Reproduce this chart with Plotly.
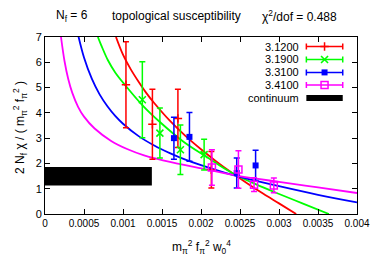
import plotly.graph_objects as go

# ---------------- data ----------------
betas = ["3.1200", "3.1900", "3.3100", "3.4100"]
colors = ["#ff0000", "#00ff00", "#0000ff", "#ff00ff"]

red_x = [0.001038, 0.001377, 0.001704, 0.002133]
red_y = [5.11, 3.55, 3.78, 1.75]
red_err = [1.70, 1.38, 1.15, 0.72]

green_x = [0.001248, 0.001473, 0.001736, 0.002040]
green_y = [4.52, 3.20, 2.54, 2.35]
green_err = [1.50, 0.99, 0.98, 0.61]

blue_x = [0.001653, 0.001852, 0.002458, 0.002700]
blue_y = [3.00, 3.05, 1.62, 1.92]
blue_err = [0.83, 0.96, 0.59, 0.60]

magenta_x = [0.002140, 0.002480, 0.002680, 0.002934]
magenta_y = [1.84, 1.76, 1.16, 1.13]
magenta_err = [0.70, 0.74, 0.27, 0.29]

# fit curves
red_fit_x = [0.00091, 0.0010, 0.0011, 0.0012, 0.0013, 0.0014, 0.0016, 0.0018,
             0.0020, 0.0022, 0.0024, 0.0026, 0.0028, 0.0030, 0.00322]
red_fit_y = [7.0, 6.30, 5.72, 5.23, 4.78, 4.39, 3.69, 3.09,
             2.56, 2.07, 1.62, 1.20, 0.80, 0.42, 0.0]

green_fit_x = [0.000678, 0.00072, 0.000805, 0.0009, 0.00104, 0.00125, 0.00148,
               0.00178, 0.00206, 0.0023, 0.00248, 0.0027, 0.00297, 0.0033, 0.00364]
green_fit_y = [7.0, 6.68, 6.09, 5.6, 5.05, 4.3, 3.62,
               2.85, 2.28, 1.80, 1.49, 1.18, 0.83, 0.42, 0.0]

blue_fit_x = [0.00043, 0.0005, 0.0006, 0.0007, 0.0008, 0.0009, 0.0010, 0.0012,
              0.0014, 0.0016, 0.0018, 0.0020, 0.0023, 0.0026, 0.0030, 0.0035, 0.0040]
blue_fit_y = [7.01, 6.19, 5.35, 4.73, 4.26, 3.88, 3.57, 3.08,
              2.71, 2.41, 2.15, 1.93, 1.64, 1.39, 1.10, 0.76, 0.46]

magenta_fit_x = [0.000205, 0.00025, 0.000297, 0.00035, 0.000424, 0.0005, 0.000636,
                 0.000848, 0.00106, 0.00127, 0.00163, 0.00206, 0.00248, 0.0030,
                 0.0035, 0.0040]
magenta_fit_y = [7.0, 6.05, 5.35, 4.79, 4.24, 3.85, 3.38,
                 2.89, 2.56, 2.32, 2.04, 1.77, 1.51, 1.27,
                 1.05, 0.83]

continuum_value = 1.495
continuum_err = 0.365
continuum_xmax = 0.00137

x_tickvals = [0, 0.0005, 0.001, 0.0015, 0.002, 0.0025, 0.003, 0.0035, 0.004]
x_ticktext = ["0", "0.0005", "0.001", "0.0015", "0.002", "0.0025", "0.003", "0.0035", "0.004"]
y_tickvals = [0, 1, 2, 3, 4, 5, 6, 7]

FONT = "Liberation Sans, Arial, Helvetica, sans-serif"

fig = go.Figure()

# continuum band
fig.add_trace(go.Scatter(
    x=[0, continuum_xmax, continuum_xmax, 0, 0],
    y=[continuum_value - continuum_err, continuum_value - continuum_err,
       continuum_value + continuum_err, continuum_value + continuum_err,
       continuum_value - continuum_err],
    fill="toself", fillcolor="black", mode="lines",
    line=dict(color="black", width=0), showlegend=False, hoverinfo="skip"))

fits = [(red_fit_x, red_fit_y), (green_fit_x, green_fit_y),
        (blue_fit_x, blue_fit_y), (magenta_fit_x, magenta_fit_y)]
for (fx, fy), c in zip(fits, colors):
    fig.add_trace(go.Scatter(x=fx, y=fy, mode="lines",
                             line=dict(color=c, width=1.8, shape="spline", smoothing=1.0),
                             showlegend=False, hoverinfo="skip"))

markers = [
    dict(symbol="cross-thin", size=6, color=colors[0], line=dict(color=colors[0], width=1.5)),
    dict(symbol="x-thin", size=7, color=colors[1], line=dict(color=colors[1], width=1.6)),
    dict(symbol="square", size=6, color=colors[2], line=dict(color=colors[2], width=0)),
    dict(symbol="square-open", size=7, color=colors[3], line=dict(color=colors[3], width=1.5)),
]
series = [(red_x, red_y, red_err), (green_x, green_y, green_err),
          (blue_x, blue_y, blue_err), (magenta_x, magenta_y, magenta_err)]
for (sx, sy, se), c, m in zip(series, colors, markers):
    fig.add_trace(go.Scatter(
        x=sx, y=sy, mode="markers", marker=m,
        error_y=dict(type="data", array=se, visible=True, color=c, thickness=1.5, width=3),
        showlegend=False))

# ---------------- hand-made gnuplot style legend ----------------
leg_rows = [0.946, 0.873, 0.800, 0.729, 0.656]
leg_xc = 0.896
leg_half = 0.0583
for i, (c, m) in enumerate(zip(colors, markers)):
    fig.add_trace(go.Scatter(
        x=[leg_xc], y=[leg_rows[i]], xaxis="x2", yaxis="y2", mode="markers",
        marker=m,
        error_x=dict(type="data", array=[leg_half], visible=True, color=c, thickness=1.5, width=3),
        showlegend=False, hoverinfo="skip"))
fig.add_trace(go.Scatter(
    x=[leg_xc - leg_half, leg_xc + leg_half], y=[leg_rows[4], leg_rows[4]],
    xaxis="x2", yaxis="y2", mode="lines", line=dict(color="black", width=6),
    showlegend=False, hoverinfo="skip"))

annotations = []
for i, lab in enumerate(betas + ["continuum"]):
    annotations.append(dict(x=0.818, y=leg_rows[i], xref="paper", yref="paper",
                            text=lab, showarrow=False, xanchor="right", yanchor="middle",
                            borderpad=0,
                            font=dict(family=FONT, size=11, color="black")))

# title pieces
annotations += [
    dict(x=(72 - 45) / 314, y=1.12, xref="paper", yref="paper", text="N<sub>f</sub> = 6",
         showarrow=False, xanchor="center", yanchor="middle",
         font=dict(family=FONT, size=12, color="black")),
    dict(x=(177.5 - 45) / 314, y=1.12, xref="paper", yref="paper",
         text="topological susceptibility", showarrow=False, xanchor="center", yanchor="middle",
         font=dict(family=FONT, size=12, color="black")),
    dict(x=(301 - 45) / 314, y=1.12, xref="paper", yref="paper",
         text="χ<sup>2</sup>/dof = 0.488", showarrow=False, xanchor="center", yanchor="middle",
         font=dict(family=FONT, size=12, color="black")),
    dict(x=(20 - 45) / 314, y=0.487, xref="paper", yref="paper",
         text="2 N<sub>f</sub> χ / ( m<sub>π</sub><sup>2</sup> f<sub>π</sub><sup>2</sup> )",
         textangle=-90, showarrow=False, xanchor="center", yanchor="middle",
         font=dict(family=FONT, size=12, color="black")),
    dict(x=0.502, y=-0.185, xref="paper", yref="paper",
         text="m<sub>π</sub><sup>2</sup> f<sub>π</sub><sup>2</sup> w<sub>0</sub><sup>4</sup>",
         showarrow=False, xanchor="center", yanchor="middle",
         font=dict(family=FONT, size=12, color="black")),
]

axis_common = dict(showgrid=False, zeroline=False, showline=True, linecolor="black",
                   linewidth=1, mirror="ticks", ticks="inside", ticklen=5,
                   tickcolor="black", tickwidth=1,
                   tickfont=dict(family=FONT, size=11, color="black"))

fig.update_layout(
    width=382, height=267,
    margin=dict(l=45, r=23, t=37, b=53),
    paper_bgcolor="white", plot_bgcolor="white",
    showlegend=False,
    xaxis=dict(range=[0, 0.004], tickvals=x_tickvals, ticktext=x_ticktext, **axis_common),
    yaxis=dict(range=[0, 7], tickvals=y_tickvals, **axis_common),
    xaxis2=dict(overlaying="x", range=[0, 1], visible=False),
    yaxis2=dict(overlaying="y", range=[0, 1], visible=False),
    annotations=annotations,
)
fig.update_layout(xaxis_tickfont=dict(family=FONT, size=10, color="black"))

fig.write_html("out.html",
               config={"displayModeBar": False},
               post_script="document.body.style.margin='0';document.body.style.padding='0';")
